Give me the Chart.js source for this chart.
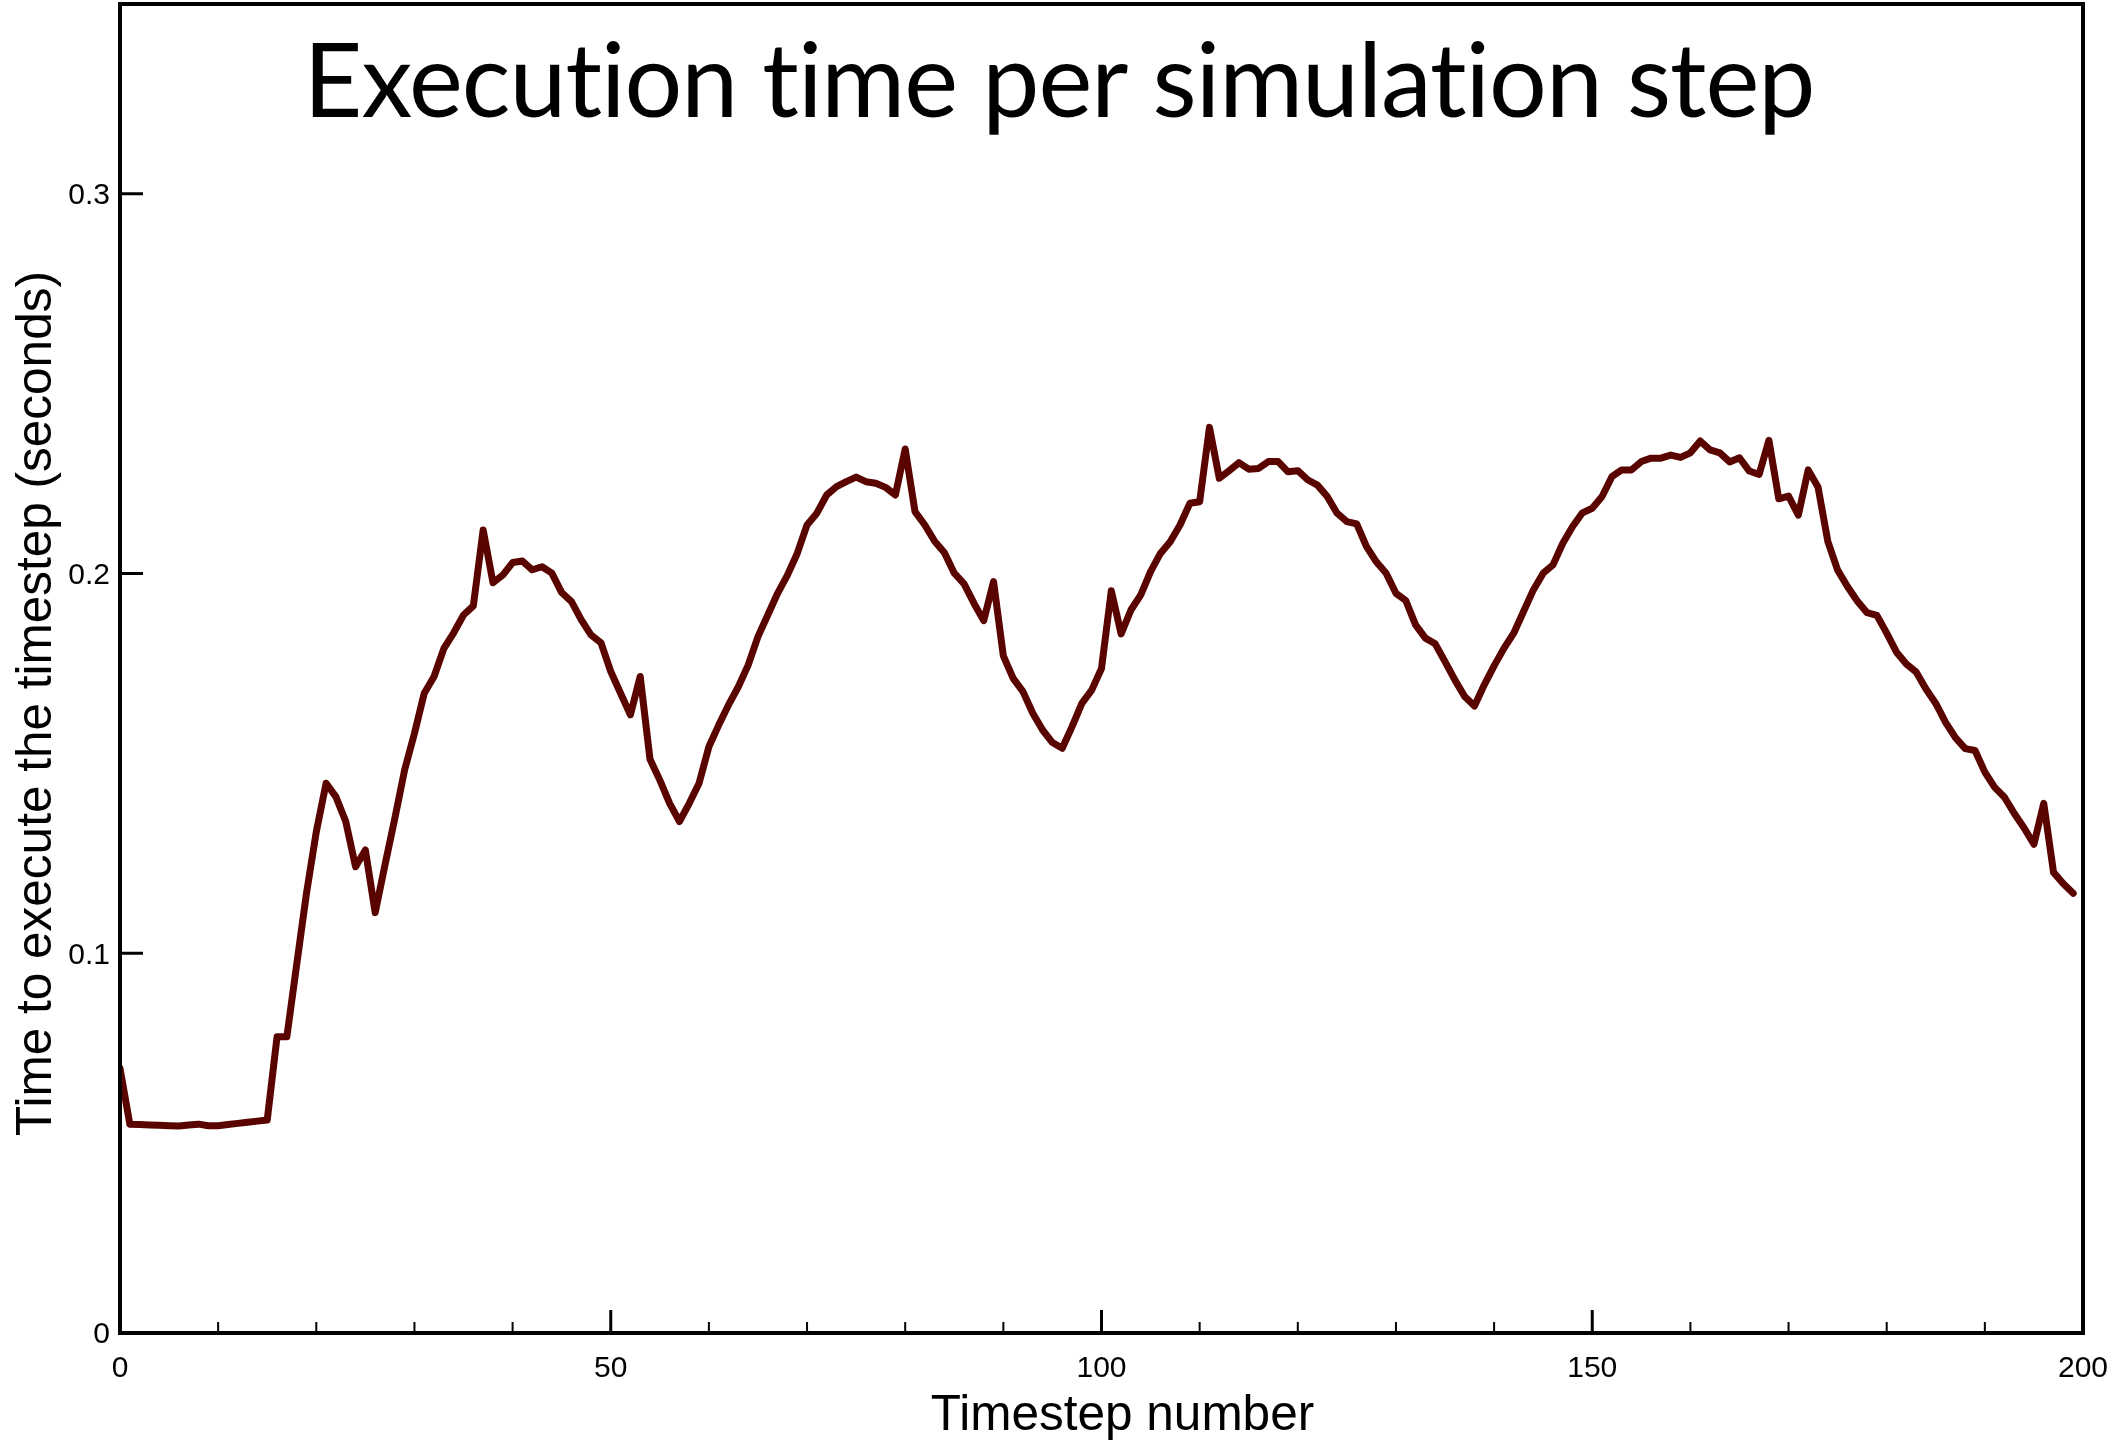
<!DOCTYPE html>
<html>
<head>
<meta charset="utf-8">
<title>Execution time per simulation step</title>
<script src="https://cdn.jsdelivr.net/npm/chart.js@4"></script>
<style>
  html, body { margin: 0; padding: 0; background: #fff; }
</style>
</head>
<body>
<canvas id="grafico" width="2118" height="1445"></canvas>
<script>
// Tempo de execução de cada passo da simulação (segundos), passos 0..199
const timeSeconds = [
  0.0697, 0.0550, 0.0549, 0.0548, 0.0547, 0.0546, 0.0545, 0.0548, 0.0550, 0.0546,
  0.0546, 0.0549, 0.0552, 0.0555, 0.0558, 0.0561, 0.0780, 0.0780, 0.0970, 0.1158,
  0.1320, 0.1448, 0.1412, 0.1347, 0.1228, 0.1272, 0.1107, 0.1233, 0.1355, 0.1483,
  0.1579, 0.1685, 0.1729, 0.1803, 0.1844, 0.1891, 0.1915, 0.2115, 0.1976, 0.1996,
  0.2029, 0.2033, 0.2010, 0.2018, 0.2001, 0.1950, 0.1926, 0.1878, 0.1838, 0.1818,
  0.1742, 0.1685, 0.1628, 0.1729, 0.1511, 0.1456, 0.1395, 0.1347, 0.1395, 0.1448,
  0.1544, 0.1601, 0.1654, 0.1702, 0.1759, 0.1834, 0.1891, 0.1948, 0.1996, 0.2053,
  0.2128, 0.2159, 0.2207, 0.2229, 0.2242, 0.2254, 0.2242, 0.2238, 0.2227, 0.2207,
  0.2328, 0.2163, 0.2128, 0.2085, 0.2055, 0.2001, 0.1973, 0.1922, 0.1876, 0.1979,
  0.1783, 0.1724, 0.1689, 0.1632, 0.1588, 0.1555, 0.1540, 0.1597, 0.1658, 0.1693,
  0.1750, 0.1955, 0.1841, 0.1904, 0.1944, 0.2005, 0.2053, 0.2084, 0.2128, 0.2185,
  0.2189, 0.2385, 0.2251, 0.2271, 0.2292, 0.2275, 0.2277, 0.2295, 0.2295, 0.2268,
  0.2271, 0.2247, 0.2233, 0.2203, 0.2159, 0.2137, 0.2131, 0.2071, 0.2031, 0.2001,
  0.1948, 0.1929, 0.1865, 0.1830, 0.1815, 0.1768, 0.1720, 0.1676, 0.1651, 0.1707,
  0.1757, 0.1803, 0.1843, 0.1900, 0.1957, 0.2001, 0.2023, 0.2080, 0.2124, 0.2160,
  0.2172, 0.2203, 0.2255, 0.2273, 0.2273, 0.2295, 0.2304, 0.2304, 0.2312, 0.2306,
  0.2318, 0.2349, 0.2326, 0.2318, 0.2294, 0.2305, 0.2270, 0.2261, 0.2351, 0.2197,
  0.2204, 0.2154, 0.2273, 0.2228, 0.2085, 0.2009, 0.1966, 0.1928, 0.1897, 0.1890,
  0.1843, 0.1793, 0.1762, 0.1741, 0.1696, 0.1658, 0.1608, 0.1568, 0.1539, 0.1534,
  0.1477, 0.1437, 0.1411, 0.1368, 0.1330, 0.1287, 0.1395, 0.1213, 0.1183, 0.1158
];

const xMajorTicks = [0, 50, 100, 150, 200];
const xMinorTicks = [10, 20, 30, 40, 60, 70, 80, 90, 110, 120, 130, 140, 160, 170, 180, 190];
const yMajorTicks = [0, 0.1, 0.2, 0.3];

const chartTitle = "Execution time per simulation step";
const xTitle = "Timestep number";
const yTitle = "Time to execute the timestep (seconds)";

const fonteEixo = "'Liberation Sans', Arial, Helvetica, sans-serif";

// moldura, ticks para dentro e textos (título no interior da área do gráfico)
const molduraPlugin = {
    id: "moldura",
    afterDatasetsDraw(chart) {
        const { ctx, chartArea: a, scales: { x, y } } = chart;
        ctx.save();
        ctx.strokeStyle = "#000";
        ctx.lineCap = "butt";

        ctx.lineWidth = 3;
        ctx.beginPath();
        xMajorTicks.forEach(v => {
            const px = x.getPixelForValue(v);
            ctx.moveTo(px, a.bottom);
            ctx.lineTo(px, a.bottom - 23);
        });
        yMajorTicks.forEach(v => {
            const py = y.getPixelForValue(v);
            ctx.moveTo(a.left, py);
            ctx.lineTo(a.left + 23, py);
        });
        ctx.stroke();

        ctx.lineWidth = 2;
        ctx.beginPath();
        xMinorTicks.forEach(v => {
            const px = x.getPixelForValue(v);
            ctx.moveTo(px, a.bottom);
            ctx.lineTo(px, a.bottom - 11);
        });
        ctx.stroke();

        ctx.lineWidth = 4;
        ctx.strokeRect(a.left, a.top, a.right - a.left, a.bottom - a.top);

        ctx.fillStyle = "#000";
        ctx.textAlign = "center";
        ctx.textBaseline = "alphabetic";

        // letterSpacing diferente de zero evita a ligadura "ti" da Lato
        ctx.font = "102px Lato, 'Gill Sans', sans-serif";
        ctx.letterSpacing = "-1px";
        ctx.fillText(chartTitle, chart.width / 2, 117);
        ctx.letterSpacing = "0px";

        ctx.font = "49.5px " + fonteEixo;
        ctx.fillText(xTitle, (a.left + a.right) / 2 + 21, 1430);

        ctx.translate(51, (a.top + a.bottom) / 2 + 35);
        ctx.rotate(-Math.PI / 2);
        ctx.fillText(yTitle, 0, 0);
        ctx.restore();
    }
};

const ctx = document.getElementById("grafico").getContext("2d");

new Chart(ctx, {
    type: "line",
    data: {
        datasets: [{
            label: yTitle,
            data: timeSeconds.map((t, i) => ({ x: i, y: t })),
            borderColor: "#5a0400",
            borderWidth: 7,
            borderJoinStyle: "round",
            borderCapStyle: "round",
            pointRadius: 0,
            tension: 0,
            fill: false
        }]
    },
    options: {
        responsive: false,
        animation: false,
        layout: { padding: { left: 0, top: 4, right: 35, bottom: 0 } },
        plugins: {
            legend: { display: false },
            tooltip: { enabled: false },
            title: { display: false }
        },
        scales: {
            x: {
                type: "linear",
                min: 0,
                max: 200,
                afterBuildTicks: s => { s.ticks = xMajorTicks.map(v => ({ value: v })); },
                afterFit: s => {
                    s.height = 112;
                    s.paddingLeft = 0;
                    s.paddingRight = 0;
                },
                ticks: {
                    color: "#000",
                    font: { family: fonteEixo, size: 30 },
                    padding: 18,
                    maxRotation: 0,
                    autoSkip: false
                },
                grid: { display: false, drawTicks: false },
                border: { display: false }
            },
            y: {
                type: "linear",
                min: 0,
                max: 0.35,
                afterBuildTicks: s => { s.ticks = yMajorTicks.map(v => ({ value: v })); },
                afterFit: s => {
                    s.width = 120;
                    s.paddingTop = 0;
                    s.paddingBottom = 0;
                },
                ticks: {
                    color: "#000",
                    font: { family: fonteEixo, size: 30 },
                    padding: 10,
                    labelOffset: 2,
                    callback: v => String(v)
                },
                grid: { display: false, drawTicks: false },
                border: { display: false }
            }
        }
    },
    plugins: [molduraPlugin]
});
</script>
</body>
</html>
